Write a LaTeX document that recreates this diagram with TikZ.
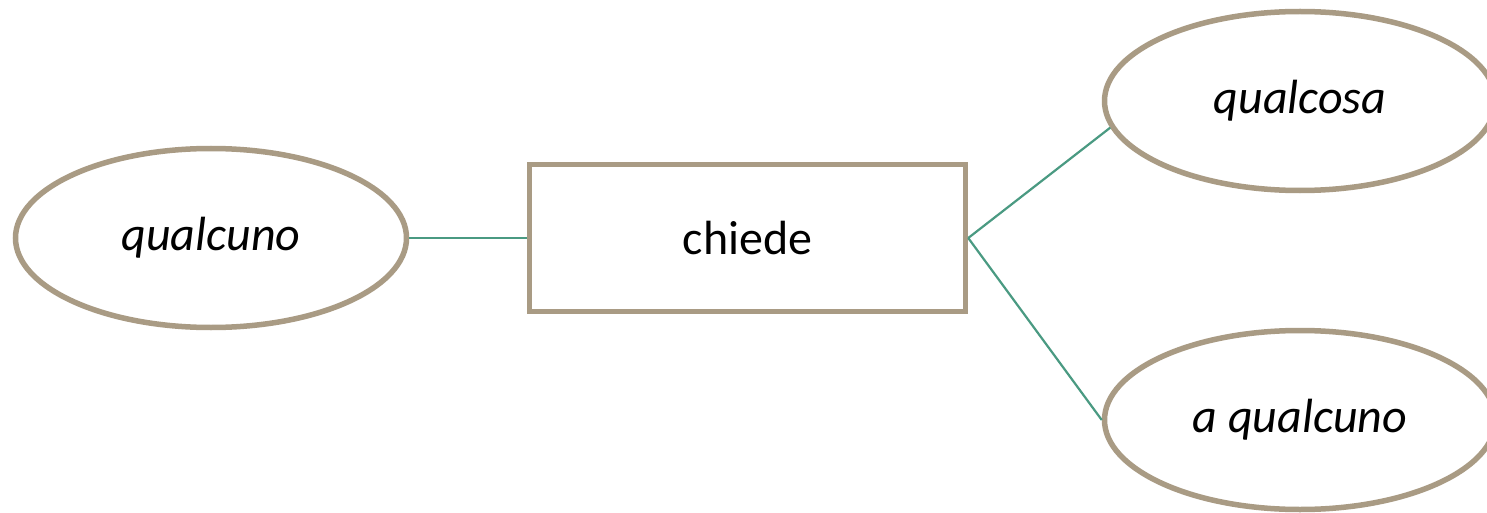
\documentclass[tikz,border=0pt]{standalone}
\usepackage{fontspec}
\setmainfont{Carlito}
\usetikzlibrary{shapes.geometric}
\definecolor{rim}{HTML}{A99B84}
\definecolor{link}{HTML}{4A9A82}
\begin{document}
\begin{tikzpicture}[x=1pt,y=-1pt,
  entity/.style={ellipse, draw=rim, line width=5.5pt, fill=white,
    minimum width=391pt, minimum height=179pt, inner sep=0pt,
    font=\fontsize{48}{56}\selectfont\itshape},
  relbox/.style={rectangle, draw=rim, line width=5.5pt, fill=white,
    minimum width=436pt, minimum height=147pt, inner sep=0pt,
    font=\fontsize{48}{56}\selectfont},
  wire/.style={draw=link, line width=2.2pt}]
  \useasboundingbox[fill=white] (0,0) rectangle (1487,513);
  \node[entity] (sub) at (211,238) {qualcuno};
  \node[relbox] (rel) at (747.5,238) {chiede};
  \node[entity] (obj) at (1300,101) {qualcosa};
  \node[entity] (ind) at (1300,420) {a qualcuno};
  \draw[wire] (sub.east) -- (rel.west);
  \draw[wire] (rel.east) -- (obj.188);
  \draw[wire] (rel.east) -- (ind.west);
\end{tikzpicture}
\end{document}
